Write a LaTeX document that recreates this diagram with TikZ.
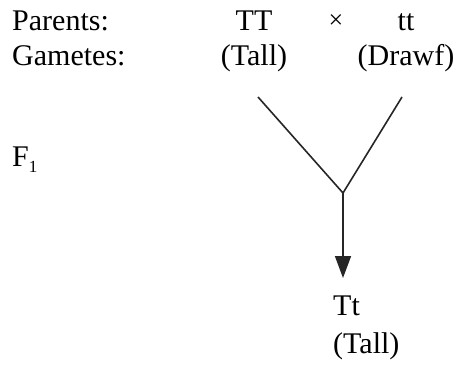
\documentclass[tikz,border=0pt]{standalone}
\usepackage{fontspec}
\setmainfont{Liberation Serif}
\usetikzlibrary{arrows.meta}
\begin{document}
\begin{tikzpicture}[x=1pt,y=-1pt,
  txt/.style={inner sep=0pt,font=\fontsize{30}{36}\selectfont},
  ln/.style={line width=1.6pt,black!85}]
\useasboundingbox (0,0) rectangle (460,366);
\node[txt,anchor=base west] (par) at (12,31) {Parents:};
\node[txt,anchor=base west] (gam) at (12,66) {Gametes:};
\node[txt,anchor=base west] (f1) at (12,167) {F\raisebox{-6pt}{\fontsize{17}{20}\selectfont 1}};
\node[txt,anchor=base] (TT) at (254,31) {TT};
\node[txt,anchor=base] (x) at (336,29) {\fontsize{26}{30}\selectfont ×};
\node[txt,anchor=base] (tt) at (406,31) {tt};
\node[txt,anchor=base] (tall) at (254,66) {(Tall)};
\node[txt,anchor=base] (dwarf) at (406,66) {(Drawf)};
\coordinate (l) at (258,97);
\coordinate (r) at (402,97);
\coordinate (j) at (343,193);
\coordinate (e) at (343,278);
\draw[ln] (l) -- (j) -- (r);
\draw[ln,-{Triangle[length=22pt,width=16pt]}] (j) -- (e);
\node[txt,anchor=base west] (Tt) at (333,315) {Tt};
\node[txt,anchor=base west] (tall2) at (333,353) {(Tall)};
\end{tikzpicture}
\end{document}
